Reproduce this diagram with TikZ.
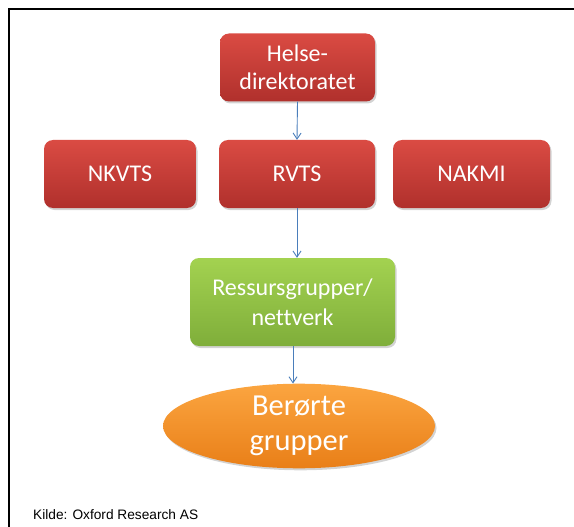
\documentclass[tikz,border=0pt]{standalone}
\usepackage{fontspec}
\setmainfont[Ligatures={NoCommon}]{Carlito}
\newfontfamily\arialfont{Liberation Sans}
\usetikzlibrary{shapes.geometric,arrows.meta,shadows}
\definecolor{redtop}{HTML}{DA4B43}
\definecolor{redbot}{HTML}{B0302C}
\definecolor{greentop}{HTML}{A3D250}
\definecolor{greenbot}{HTML}{7FAE3A}
\definecolor{orangetop}{HTML}{FBA540}
\definecolor{orangebot}{HTML}{E97F18}
\definecolor{arrowblue}{HTML}{4A7EBB}
\tikzset{
  redbox/.style={rectangle, rounded corners=9pt, top color=redtop, bottom color=redbot,
    draw=none, text=white, align=center, font=\fontsize{24}{28}\selectfont,
    minimum width=155pt, minimum height=68pt, inner sep=0pt,
    drop shadow={shadow xshift=1.5pt, shadow yshift=-2pt, opacity=0.35}},
  greenbox/.style={rectangle, rounded corners=9pt, top color=greentop, bottom color=greenbot,
    draw=none, text=white, align=center, font=\fontsize{24}{30}\selectfont,
    minimum width=205pt, minimum height=88pt, inner sep=0pt,
    drop shadow={shadow xshift=1.5pt, shadow yshift=-2pt, opacity=0.35}},
  orangeell/.style={ellipse, top color=orangetop, bottom color=orangebot,
    draw=none, text=white, align=center, font=\fontsize{30.5}{35}\selectfont,
    minimum width=272pt, minimum height=82pt, inner sep=0pt,
    drop shadow={shadow xshift=1.5pt, shadow yshift=-2pt, opacity=0.35}},
  conn/.style={draw=arrowblue, line width=0.9pt, -{Straight Barb[length=6pt,width=8pt]}},
}
\begin{document}
\begin{tikzpicture}[x=1pt,y=-1pt]
\useasboundingbox (0,0) rectangle (574,527);
\draw[line width=1.2pt] (9,527) -- (9,9) -- (574,9);
\node[redbox] (hd) at (297.5,67.5) {Helse-\\direktoratet};
\node[redbox, minimum width=152pt] (nkvts) at (120,174) {NKVTS};
\node[redbox, minimum width=156pt] (rvts) at (297,174) {RVTS};
\node[redbox, minimum width=157pt] (nakmi) at (471.5,174) {NAKMI};
\node[greenbox] (res) at (292.5,302) {Ressursgrupper/\\nettverk};
\node[orangeell] (ber) at (299,426) {Berørte\\grupper};
\draw[conn] (hd.south) -- (rvts.north);
\draw[conn] (rvts.south) -- (rvts.south |- res.north);
\draw[conn] ([xshift=0.5pt]res.south) -- ([xshift=0.5pt]res.south |- ber.north);
\node[anchor=base west, inner sep=0pt, font=\arialfont\fontsize{13.7}{16}\selectfont] (src) at (33,519) {Kilde: Oxford Research AS};
\end{tikzpicture}
\end{document}
